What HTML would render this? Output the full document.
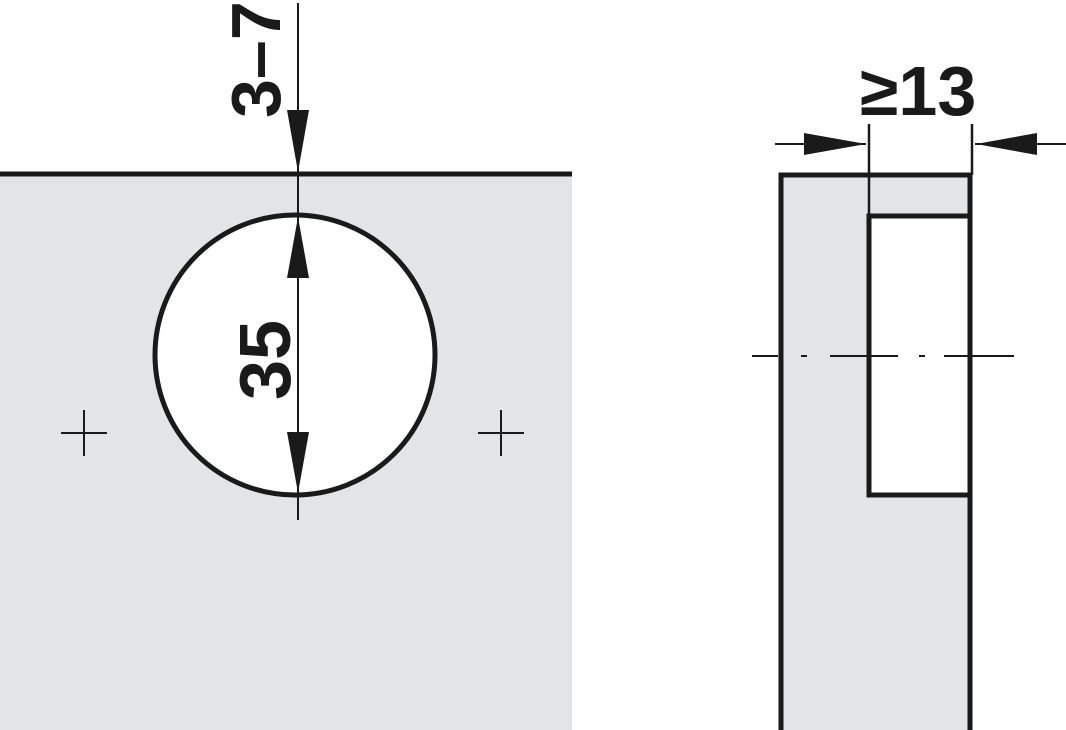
<!DOCTYPE html>
<html><head><style>html,body{margin:0;padding:0;background:#fff;}svg{display:block}</style></head>
<body>
<svg width="1066" height="730" viewBox="0 0 1066 730" xmlns="http://www.w3.org/2000/svg">
<rect x="0" y="174" width="572" height="556" fill="#e3e4e6"/>
<line x1="0" y1="174" x2="572" y2="174" stroke="#1a1a1a" stroke-width="5"/>
<circle cx="295" cy="355" r="140" fill="#fff" stroke="#1a1a1a" stroke-width="5"/>
<line x1="298" y1="3" x2="298" y2="520" stroke="#1a1a1a" stroke-width="2"/>
<polygon points="287,110 309,110 298,172" fill="#1a1a1a"/>
<polygon points="287,278 309,278 298,217" fill="#1a1a1a"/>
<polygon points="287,432 309,432 298,493" fill="#1a1a1a"/>
<g stroke="#1a1a1a" stroke-width="2">
<line x1="61" y1="433" x2="107" y2="433"/><line x1="84" y1="410" x2="84" y2="456"/>
<line x1="478" y1="433" x2="524" y2="433"/><line x1="501" y1="410" x2="501" y2="456"/>
</g>
<text transform="translate(280,118) rotate(-90)" font-family="Liberation Sans, sans-serif" font-weight="bold" font-size="70" fill="#1a1a1a">3–7</text>
<text transform="translate(290,400) rotate(-90)" font-family="Liberation Sans, sans-serif" font-weight="bold" font-size="72" fill="#1a1a1a">35</text>
<rect x="781" y="175" width="189" height="560" fill="#e3e4e6" stroke="#1a1a1a" stroke-width="5"/>
<rect x="869" y="216" width="101" height="279" fill="#fff" stroke="#1a1a1a" stroke-width="5"/>
<line x1="869" y1="124" x2="869" y2="216" stroke="#1a1a1a" stroke-width="2.5"/>
<line x1="972" y1="124" x2="972" y2="175" stroke="#1a1a1a" stroke-width="2.5"/>
<line x1="775" y1="144" x2="866" y2="144" stroke="#1a1a1a" stroke-width="2"/>
<polygon points="804,133 804,155 866,144" fill="#1a1a1a"/>
<line x1="975" y1="144" x2="1066" y2="144" stroke="#1a1a1a" stroke-width="2"/>
<polygon points="1037,133 1037,155 976,144" fill="#1a1a1a"/>
<text x="860" y="115" font-family="Liberation Sans, DejaVu Sans, sans-serif" font-weight="bold" font-size="70" fill="#1a1a1a">≥13</text>
<g stroke="#1a1a1a" stroke-width="2">
<line x1="752" y1="356" x2="778" y2="356"/><line x1="801" y1="356" x2="807" y2="356"/>
<line x1="830" y1="356" x2="898" y2="356"/><line x1="919" y1="356" x2="925" y2="356"/>
<line x1="944" y1="356" x2="1014" y2="356"/>
</g>
</svg>
</body></html>
